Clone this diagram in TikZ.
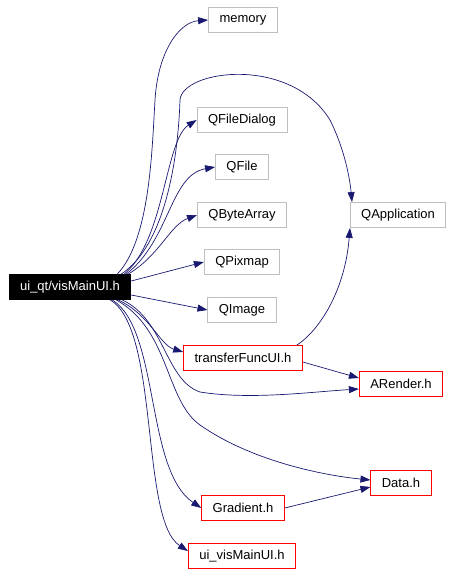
\documentclass[tikz,border=0pt]{standalone}
\usepackage{fontspec}
\setmainfont{Liberation Sans}
\usepackage{tikz}
\usetikzlibrary{arrows.meta}
\definecolor{edgeblue}{RGB}{25,25,112}
\definecolor{sysgray}{RGB}{191,191,191}
\tikzset{
  hdr/.style = {rectangle, align=center, inner xsep=11pt, inner ysep=0pt,
    minimum height=25pt, font=\fontsize{13}{15}\selectfont, line width=0.8pt},
  hdr_root/.style = {hdr, fill=black, draw=black, text=white},% fichier racine
  hdr_sys/.style = {hdr, draw=sysgray, fill=white},% en-tete systeme
  hdr_prj/.style = {hdr, draw=red, fill=white},% en-tete du projet
  dep/.style = {edgeblue, line width=0.7pt,
    -{Triangle[length=10pt,width=7pt]}}
}
\begin{document}
\begin{tikzpicture} [x=1pt, y=-1pt]
		\useasboundingbox (0,0) rectangle (458,575);
		\node [hdr_root] (main) at (70,287) {ui\_qt/visMainUI.h};
		\node [hdr_sys] (memory) at (243,20) {memory};
		\node [hdr_sys] (qfiledialog) at (242,120) {QFileDialog};
		\node [hdr_sys] (qfile) at (242,167) {QFile};
		\node [hdr_sys] (qbytearray) at (242,215) {QByteArray};
		\node [hdr_sys] (qpixmap) at (242,262) {QPixmap};
		\node [hdr_sys] (qimage) at (242,310) {QImage};
		\node [hdr_sys] (qapplication) at (398,215) {QApplication};
		\node [hdr_prj] (transfer) at (243,358) {transferFuncUI.h};
		\node [hdr_prj] (arender) at (401,384) {ARender.h};
		\node [hdr_prj] (data) at (401,483) {Data.h};
		\node [hdr_prj] (gradient) at (243,508) {Gradient.h};
		\node [hdr_prj] (uivis) at (242,556) {ui\_visMainUI.h};
		% au-dessus
		\draw [dep] ([xshift=-14pt]main.north east) .. controls (150,240) and (152,150) .. (155,100)
			.. controls (158,50) and (180,22) .. (memory.west);
		\draw [dep] ([xshift=-10pt]main.north east) .. controls (165,245) and (178,160) .. (180,100)
			.. controls (182,70) and (290,55) .. (330,120)
			.. controls (345,150) and (350,180) .. ([xshift=-46pt]qapplication.north);
		\draw [dep] ([xshift=-7pt]main.north east) .. controls (165,240) and (165,140) .. (qfiledialog.west);
		\draw [dep] ([xshift=-5pt]main.north east) .. controls (170,240) and (170,175) .. (qfile.west);
		\draw [dep] ([xshift=-3pt]main.north east) .. controls (160,255) and (170,225) .. (qbytearray.west);
		\draw [dep] ([yshift=6pt]main.east) -- (qpixmap.west);
		\draw [dep] ([yshift=-8pt]main.east) -- (qimage.west);
		% au-dessous
		\draw [dep] ([xshift=-13pt]main.south east) .. controls (150,315) and (160,345) .. ([yshift=6pt]transfer.west);
		\draw [dep] ([xshift=-9pt]main.south east) .. controls (165,320) and (165,380) .. (200,392)
			.. controls (250,400) and (310,392) .. ([yshift=-5pt]arender.west);
		\draw [dep] ([xshift=-15pt]main.south east) .. controls (170,330) and (165,400) .. (200,425)
			.. controls (250,460) and (320,475) .. ([yshift=3pt]data.west);
		\draw [dep] ([xshift=-19pt]main.south east) .. controls (160,330) and (145,470) .. (gradient.west);
		\draw [dep] ([xshift=-21pt]main.south east) .. controls (160,330) and (140,520) .. ([yshift=5pt]uivis.west);
		% entre les en-tetes
		\draw [dep] ([xshift=-6pt]transfer.north east) .. controls (320,330) and (345,290) .. ([xshift=-48pt]qapplication.south);
		\draw [dep] ([yshift=-4pt]transfer.east) -- ([yshift=6pt]arender.west);
		\draw [dep] (gradient.east) -- ([yshift=-4pt]data.west);
\end{tikzpicture}
\end{document}
